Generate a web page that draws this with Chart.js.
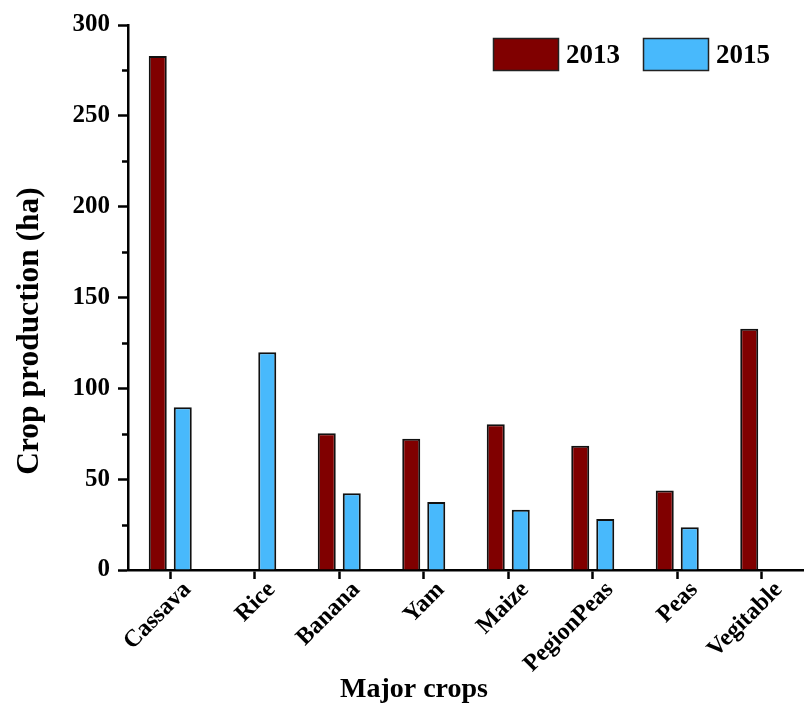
<!DOCTYPE html>
<html>
<head>
<meta charset="utf-8">
<script src="https://cdn.jsdelivr.net/npm/chart.js@4/dist/chart.umd.min.js"></script>
<style>
  html, body { margin: 0; padding: 0; background: #ffffff; }
  #wrap { width: 804px; height: 704px; position: relative; }
</style>
</head>
<body>
<div id="wrap"><canvas id="c" width="804" height="704"></canvas></div>
<script>
// Crop production by crop type, two survey years
const crops = ['Cassava', 'Rice', 'Banana', 'Yam', 'Maize', 'PegionPeas', 'Peas', 'Vegitable'];
const prod2013 = [283, null, 75.3, 72.3, 80.2, 68.4, 43.7, 132.8];
const prod2015 = [89.6, 119.8, 42.3, 37.4, 33.2, 28.1, 23.5, null];
const seriesNames = ['2013', '2015'];
const seriesColors = ['#800000', '#48B9FC'];
const yMajorStep = 50;
const yMinorTicks = [25, 75, 125, 175, 225, 275];

const FONT = '"Liberation Serif", "Times New Roman", serif';

// Axis titles, short minor ticks on the value axis and the legend
const extras = {
  id: 'extras',
  afterDraw(chart) {
    const { ctx, chartArea, scales } = chart;
    ctx.save();
    // minor ticks
    ctx.strokeStyle = '#000';
    ctx.lineWidth = 2.5;
    yMinorTicks.forEach(v => {
      const y = Math.round(scales.y.getPixelForValue(v)) + 0.5;
      ctx.beginPath();
      ctx.moveTo(chartArea.left - 6, y);
      ctx.lineTo(chartArea.left, y);
      ctx.stroke();
    });
    // axis titles
    ctx.fillStyle = '#000';
    ctx.font = 'bold 28px ' + FONT;
    ctx.textAlign = 'center';
    ctx.textBaseline = 'alphabetic';
    ctx.fillText('Major crops', 414, 697);
    ctx.save();
    ctx.translate(38, 331);
    ctx.rotate(-Math.PI / 2);
    ctx.font = 'bold 31.5px ' + FONT;
    ctx.fillText('Crop production (ha)', 0, 0);
    ctx.restore();
    // legend
    const items = [{ x: 493 }, { x: 643 }];
    ctx.font = 'bold 27px ' + FONT;
    ctx.textAlign = 'left';
    chart.data.datasets.forEach((ds, i) => {
      const bx = items[i].x;
      ctx.fillStyle = ds.backgroundColor;
      ctx.fillRect(bx, 38, 65, 32);
      ctx.strokeStyle = '#222';
      ctx.lineWidth = 1.5;
      ctx.strokeRect(bx + 0.5, 38.5, 65, 32);
      ctx.fillStyle = '#000';
      ctx.fillText(ds.label, bx + 73, 63);
    });
    ctx.restore();
  }
};

new Chart(document.getElementById('c'), {
  type: 'bar',
  data: {
    labels: crops,
    datasets: [
      { label: seriesNames[0], data: prod2013, backgroundColor: seriesColors[0] },
      { label: seriesNames[1], data: prod2015, backgroundColor: seriesColors[1] }
    ]
  },
  options: {
    responsive: false,
    animation: false,
    devicePixelRatio: 1,
    layout: { padding: { top: 25, right: 0, left: 0, bottom: 0 } },
    datasets: {
      bar: {
        categoryPercentage: 0.592,
        barPercentage: 0.72,
        borderColor: '#111',
        borderWidth: 2
      }
    },
    plugins: {
      legend: { display: false },
      tooltip: { enabled: false }
    },
    scales: {
      x: {
        offset: true,
        border: { color: '#000', width: 2.5 },
        grid: {
          offset: false,
          drawOnChartArea: false,
          drawTicks: true,
          tickLength: 9,
          tickWidth: 2.5,
          tickColor: '#000'
        },
        ticks: {
          minRotation: 45,
          maxRotation: 45,
          autoSkip: false,
          color: '#000',
          padding: -3,
          labelOffset: 17,
          font: { family: FONT, size: 24, weight: 'bold' }
        },
        afterFit(scale) { scale.height = 134; }
      },
      y: {
        min: 0,
        max: 300,
        border: { color: '#000', width: 2.5 },
        grid: {
          drawOnChartArea: false,
          drawTicks: true,
          tickLength: 10,
          tickWidth: 2.5,
          tickColor: '#000'
        },
        ticks: {
          stepSize: yMajorStep,
          color: '#000',
          padding: 8,
          font: { family: FONT, size: 25, weight: 'bold' }
        },
        afterFit(scale) { scale.width = 128; }
      }
    }
  },
  plugins: [extras]
});
</script>
</body>
</html>
